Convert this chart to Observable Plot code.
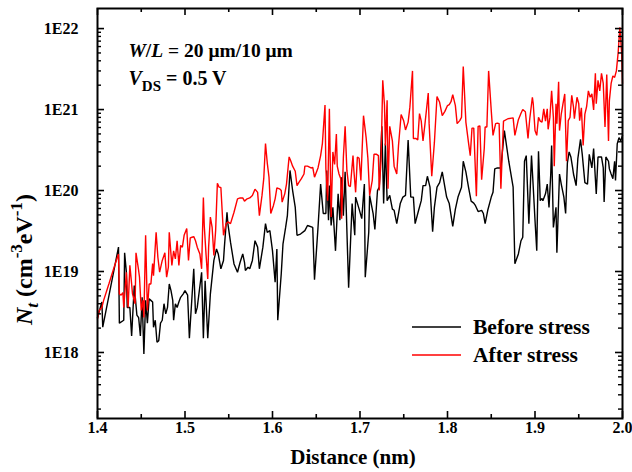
<!DOCTYPE html>
<html>
<head>
<meta charset="utf-8">
<script src="https://cdn.jsdelivr.net/npm/d3@7"></script>
<script src="https://cdn.jsdelivr.net/npm/@observablehq/plot@0.6"></script>
<style>
  html, body { margin: 0; padding: 0; background: #ffffff; }
  #chart { width: 632px; height: 472px; }
</style>
</head>
<body>
<div id="chart"></div>
<script>
// ---------------- data ----------------
const seriesNames = ["Before stress", "After stress"];
const seriesColors = ["#000000", "#ff0000"];

const beforeX = [
  1.400,1.405,1.406,1.424,1.425,1.430,1.431,1.433,1.434,1.437,
  1.439,1.442,1.445,1.447,1.449,1.451,1.453,1.455,1.457,1.459,
  1.461,1.463,1.464,1.466,1.468,1.470,1.472,1.474,1.476,1.478,
  1.480,1.482,1.484,1.486,1.487,1.489,1.491,1.493,1.495,1.498,
  1.500,1.503,1.505,1.510,1.512,1.514,1.519,1.521,1.523,1.526,
  1.529,1.533,1.536,1.538,1.541,1.544,1.545,1.548,1.549,1.552,
  1.556,1.560,1.563,1.566,1.568,1.569,1.572,1.574,1.577,1.580,
  1.583,1.585,1.589,1.592,1.594,1.597,1.600,1.603,1.605,1.606,
  1.610,1.612,1.615,1.617,1.620,1.623,1.626,1.628,1.632,1.637,
  1.640,1.646,1.648,1.652,1.655,1.658,1.661,1.662,1.664,1.665,
  1.667,1.669,1.672,1.675,1.677,1.679,1.681,1.683,1.687,1.691,
  1.694,1.695,1.699,1.702,1.705,1.706,1.710,1.711,1.715,1.717,
  1.720,1.722,1.725,1.727,1.729,1.731,1.734,1.737,1.739,1.742,
  1.746,1.749,1.752,1.755,1.758,1.761,1.763,1.767,1.770,1.772,
  1.775,1.777,1.780,1.783,1.785,1.788,1.791,1.794,1.797,1.799,
  1.802,1.806,1.809,1.812,1.816,1.818,1.821,1.824,1.827,1.830,
  1.832,1.835,1.839,1.841,1.843,1.846,1.850,1.852,1.854,1.857,
  1.861,1.865,1.870,1.875,1.877,1.881,1.884,1.886,1.888,1.890,
  1.893,1.896,1.898,1.900,1.902,1.904,1.906,1.908,1.909,1.912,
  1.914,1.916,1.918,1.919,1.921,1.924,1.925,1.928,1.930,1.933,
  1.935,1.937,1.939,1.941,1.943,1.944,1.947,1.949,1.952,1.954,
  1.957,1.960,1.962,1.965,1.967,1.970,1.972,1.976,1.978,1.979,
  1.981,1.984,1.985,1.987,1.989,1.991,1.992,1.994,1.996,1.998,
  2.000
];
const beforeY = [
  2.7e18,4.2e18,2.05e18,2.0e19,2.3e18,2.5e18,1.7e19,9.8e18,3.6e18,3.6e18,
  1.6e18,6.7e18,2.9e18,2.7e18,1.6e18,4.8e18,9.6e17,4.4e18,2.3e18,4.6e18,
  4.4e18,4.2e18,2.05e18,2.5e18,1.34e18,1.4e18,2.3e18,2.5e18,4.0e18,3.0e18,
  3.6e18,7.0e18,5.8e18,4.4e18,2.5e18,4.0e18,3.6e18,4.2e18,4.8e18,5.3e18,
  5.8e18,5.1e18,1.5e18,1.08e19,3.0e18,3.6e18,9.8e18,1.5e18,7.7e18,1.5e18,
  5.3e18,1.37e19,1.9e19,1.65e19,1.08e19,1.37e19,2.0e19,5.4e19,3.9e19,2.3e19,
  1.24e19,9.8e18,1.3e19,1.65e19,1.3e19,1.03e19,1.13e19,1.08e19,1.37e19,2.4e19,
  2.0e19,1.08e19,2.0e19,3.9e19,3.05e19,3.2e19,1.8e19,7.4e18,1.9e19,2.5e18,
  9.4e18,2.2e19,3.5e19,4.9e19,1.77e20,1.0e20,6.2e19,2.8e19,2.9e19,3.2e19,
  3.7e19,3.5e19,7.9e18,3.5e19,1.2e20,5.2e19,5.2e19,1.77e20,4.3e19,1.15e20,
  3.7e19,6.2e19,1.8e19,9.1e19,4.3e19,1.46e20,4.9e19,1.7e20,6.3e18,6.9e19,
  2.8e19,8.3e19,5.9e19,4.5e19,1.2e20,8.5e18,3.05e19,8.7e19,5.2e19,3.3e19,
  1.0e20,1.1e20,6.2e20,6.9e19,3.8e20,7.5e19,8.7e19,5.9e19,5.7e19,3.9e19,
  6.9e19,8.3e19,8.7e19,4.2e20,8.3e19,8.3e19,3.9e19,5.7e19,7.5e19,1.15e20,
  1.15e20,1.5e20,1.1e20,3.1e19,6.2e19,1.1e20,1.25e20,1.7e20,1.1e20,8.3e19,
  6.9e19,3.6e19,5.9e19,8.3e19,1.1e20,2.3e20,1.7e20,1.1e20,7.4e19,7.0e19,
  6.5e19,5.5e19,5.7e19,5.2e19,3.9e19,5.7e19,8.3e19,9.5e19,1.85e20,1.9e20,
  1.9e20,5.5e20,2.3e20,1.1e20,1.25e19,1.65e19,2.4e19,2.65e19,2.3e20,2.7e20,
  3.9e19,2.7e20,1.1e20,4.3e19,1.8e19,3.05e20,7.5e19,8.0e19,7.5e19,9.1e19,
  1.2e20,6.2e19,1.6e20,3.6e20,3.5e19,6.2e19,1.7e19,1.6e20,1.2e20,8.3e19,
  5.2e19,2.2e20,3.0e20,2.6e20,1.9e20,1.6e20,1.15e20,2.5e20,4.3e20,2.8e20,
  1.25e20,1.2e20,2.8e20,1.9e20,3.3e20,9.1e19,2.6e20,2.6e20,1.9e20,7.2e19,
  2.6e20,2.3e20,1.85e20,1.6e20,1.4e20,2.3e20,1.33e20,3.8e20,4.5e20,4.1e20,
  4.8e20
];

const afterX = [
  1.400,1.402,1.405,1.407,1.413,1.419,1.424,1.425,1.427,1.429,
  1.430,1.433,1.435,1.437,1.439,1.440,1.443,1.444,1.447,1.448,
  1.450,1.452,1.453,1.455,1.457,1.459,1.461,1.463,1.464,1.467,
  1.469,1.471,1.474,1.477,1.479,1.481,1.482,1.485,1.487,1.489,
  1.491,1.493,1.495,1.497,1.499,1.502,1.504,1.506,1.508,1.510,
  1.512,1.514,1.517,1.519,1.521,1.522,1.524,1.526,1.527,1.529,
  1.531,1.533,1.535,1.537,1.539,1.541,1.544,1.547,1.549,1.552,
  1.556,1.560,1.563,1.566,1.568,1.571,1.574,1.577,1.580,1.583,
  1.585,1.588,1.590,1.592,1.594,1.596,1.598,1.601,1.603,1.605,
  1.608,1.610,1.611,1.614,1.616,1.619,1.621,1.623,1.626,1.628,
  1.630,1.633,1.636,1.637,1.640,1.644,1.646,1.648,1.652,1.655,
  1.657,1.660,1.661,1.663,1.665,1.667,1.669,1.671,1.673,1.674,
  1.676,1.678,1.679,1.681,1.683,1.685,1.687,1.689,1.692,1.693,
  1.695,1.697,1.699,1.701,1.704,1.707,1.709,1.711,1.714,1.716,
  1.719,1.721,1.722,1.724,1.726,1.728,1.729,1.731,1.732,1.734,
  1.737,1.739,1.742,1.744,1.747,1.750,1.752,1.755,1.757,1.760,
  1.761,1.764,1.766,1.768,1.770,1.772,1.774,1.778,1.779,1.782,
  1.785,1.788,1.791,1.794,1.797,1.800,1.802,1.804,1.806,1.809,
  1.811,1.814,1.816,1.818,1.821,1.824,1.826,1.828,1.830,1.833,
  1.835,1.837,1.839,1.842,1.843,1.845,1.847,1.850,1.852,1.855,
  1.857,1.859,1.861,1.864,1.869,1.875,1.877,1.881,1.884,1.886,
  1.889,1.892,1.894,1.897,1.898,1.900,1.902,1.904,1.906,1.908,
  1.910,1.912,1.914,1.915,1.917,1.919,1.921,1.922,1.924,1.925,
  1.927,1.928,1.930,1.932,1.934,1.936,1.938,1.940,1.942,1.944,
  1.945,1.948,1.950,1.951,1.953,1.955,1.957,1.959,1.961,1.963,
  1.965,1.967,1.969,1.970,1.972,1.974,1.976,1.978,1.980,1.982,
  1.984,1.985,1.987,1.989,1.991,1.993,1.995,1.997,1.999,2.000
];
const afterY = [
  2.6e18,3.3e18,3.6e18,4.4e18,7.0e18,1.13e19,1.65e19,5.3e18,5.1e18,5.5e18,
  3.6e18,9.8e18,3.6e18,1.19e19,7.0e18,5.3e18,4.0e18,1.7e19,1.03e19,8.5e18,
  3.3e18,4.4e18,2.7e18,2.8e19,3.3e18,7.0e18,7.0e18,1.25e19,8.9e18,3.05e19,
  1.5e19,9.8e18,1.37e19,1.7e19,8.5e18,1.13e19,3.05e19,1.19e19,1.8e19,1.43e19,
  2.4e19,1.19e19,2.1e19,2.0e19,2.8e19,3.4e19,1.37e19,2.6e19,2.65e19,2.7e19,
  2.4e19,2.0e19,1.65e19,1.08e19,8.2e19,3.7e19,1.65e19,8.1e18,2.0e19,4.7e19,
  3.5e19,1.58e19,3.2e19,1.23e20,1.1e20,1.09e20,2.8e19,3.9e19,4.1e19,3.9e19,
  5.4e19,7.9e19,8.1e19,8.1e19,7.4e19,7.9e19,8.1e19,8.7e19,1.04e20,9.5e19,
  4.9e19,8.7e19,1.4e20,3.8e20,2.2e20,1.46e20,5.2e19,6.5e19,7.9e19,1.08e20,
  1.05e20,1.0e20,7.2e19,9.1e19,1.2e20,2.6e20,2.3e20,2.0e20,1.73e20,1.15e20,
  1.25e20,1.4e20,1.6e20,2.0e20,2.0e20,1.9e20,1.93e20,1.46e20,1.9e20,2.7e20,
  3.8e20,1.14e21,1.85e20,7.5e19,1.02e21,4.7e19,3.0e20,2.1e20,5.0e20,2.0e20,
  1.6e20,1.4e20,4.5e19,2.6e20,6.2e20,1.77e20,1.15e20,1.12e20,2.7e20,1.77e20,
  9.5e19,2.6e20,2.5e20,1.33e20,8.4e20,4.5e20,2.5e20,8.7e19,1.33e20,2.8e20,
  2.8e20,2.7e20,1.0e20,2.3e20,2.3e21,1.12e21,3.6e20,1.3e21,1.05e20,6.2e20,
  4.1e20,2.0e20,1.6e20,3.6e20,8.7e20,7.2e20,5.6e20,7.0e20,1.07e21,3.0e21,
  4.4e20,4.4e20,4.2e20,8.9e20,7.2e20,4.1e20,6.3e20,1.6e21,6.7e20,1.5e20,
  3.9e20,1.45e21,1.23e21,8.4e20,9.5e20,1.12e21,1.15e21,1.25e21,1.53e21,1.12e21,
  6.7e20,7.3e20,8.0e20,3.4e21,7.0e20,3.9e20,2.7e20,5.9e20,5.9e20,8.5e19,
  6.2e20,6.3e20,1.36e20,3.3e20,6.1e20,6.1e20,3.0e21,9.7e20,4.8e20,6.7e20,
  6.8e20,6.7e20,1.05e20,7.2e20,7.7e20,7.9e20,4.8e20,7.5e20,9.0e20,1.0e21,
  9.4e20,4.4e20,7.7e20,1.42e21,1.18e21,5.5e20,4.8e20,8.0e20,7.2e20,7.0e20,
  1.02e21,7.2e20,1.02e21,5.7e20,8.0e20,1.7e21,8.0e20,2.0e20,1.18e21,6.7e20,
  2.2e21,5.5e20,8.8e20,1.18e21,1.56e21,2.3e20,7.3e20,8.0e20,1.5e21,1.07e21,
  7.7e20,1.42e21,1.18e21,7.3e20,1.05e21,3.6e20,8.8e20,1.09e21,1.7e21,1.42e21,
  1.56e21,9.9e20,2.8e21,1.18e21,2.3e21,1.7e21,2.8e21,2.1e21,6.1e20,2.7e21,
  4.1e20,1.29e21,2.1e21,2.6e21,2.5e21,3.0e21,5.0e21,1.04e22,5.0e21,2.1e21
];

// axes
const xDomain = [1.4, 2.0];
const yDomain = [1.53e17, 1.77e22];
const xTicks = [1.4, 1.5, 1.6, 1.7, 1.8, 1.9, 2.0];
const xTickLabels = ["1.4", "1.5", "1.6", "1.7", "1.8", "1.9", "2.0"];
const xMinorTicks = [1.45, 1.55, 1.65, 1.75, 1.85, 1.95];
const yTicks = [1e18, 1e19, 1e20, 1e21, 1e22];
const yTickLabels = ["1E18", "1E19", "1E20", "1E21", "1E22"];
const yMinorMultipliers = [2, 3, 4, 5, 6, 7, 8, 9];
const yDecades = [1e17, 1e18, 1e19, 1e20, 1e21, 1e22];
const xTitle = "Distance (nm)";

// ---------------- build tables ----------------
const before = beforeX.map((x, i) => ({x, y: beforeY[i], series: seriesNames[0]}));
const after = afterX.map((x, i) => ({x, y: afterY[i], series: seriesNames[1]}));
const yMinorTicks = [];
for (const d of yDecades) for (const k of yMinorMultipliers) {
  const v = k * d;
  if (v > yDomain[0] && v < yDomain[1]) yMinorTicks.push(v);
}

// ---------------- layout ----------------
const W = 632, H = 472;
const M = {left: 97, right: 10, top: 8, bottom: 54};
const innerW = W - M.left - M.right;
const innerH = H - M.top - M.bottom;
const majorLen = 7, minorLen = 4;
const FONT = "'Liberation Serif', 'Times New Roman', Times, serif";

const svg = Plot.plot({
  width: W, height: H,
  marginLeft: M.left, marginRight: M.right, marginTop: M.top, marginBottom: M.bottom,
  x: {domain: xDomain},
  y: {type: "log", domain: yDomain},
  style: {fontFamily: FONT, fontSize: "16px", fontWeight: "bold", color: "black", background: "white", overflow: "visible"},
  marks: [
    Plot.line(before, {x: "x", y: "y", stroke: seriesColors[0], strokeWidth: 1.4, strokeLinejoin: "miter"}),
    Plot.line(after, {x: "x", y: "y", stroke: seriesColors[1], strokeWidth: 1.4, strokeLinejoin: "miter"}),
    // inward ticks, mirrored on all four sides
    Plot.tickX(xTicks, {x: d => d, insetTop: innerH - majorLen, stroke: "black", strokeWidth: 1.6}),
    Plot.tickX(xTicks, {x: d => d, insetBottom: innerH - majorLen, stroke: "black", strokeWidth: 1.6}),
    Plot.tickX(xMinorTicks, {x: d => d, insetTop: innerH - minorLen, stroke: "black", strokeWidth: 1.6}),
    Plot.tickX(xMinorTicks, {x: d => d, insetBottom: innerH - minorLen, stroke: "black", strokeWidth: 1.6}),
    Plot.tickY(yTicks, {y: d => d, insetRight: innerW - majorLen, stroke: "black", strokeWidth: 1.6}),
    Plot.tickY(yTicks, {y: d => d, insetLeft: innerW - majorLen, stroke: "black", strokeWidth: 1.6}),
    Plot.tickY(yMinorTicks, {y: d => d, insetRight: innerW - minorLen, stroke: "black", strokeWidth: 1.4}),
    Plot.tickY(yMinorTicks, {y: d => d, insetLeft: innerW - minorLen, stroke: "black", strokeWidth: 1.4}),
    Plot.frame({stroke: "black", strokeWidth: 2}),
    Plot.axisX(xTicks, {tickSize: 0, tickPadding: 3, label: null, fontSize: 16,
      tickFormat: d => xTickLabels[xTicks.indexOf(d)]}),
    Plot.axisY(yTicks, {tickSize: 0, tickPadding: 19, label: null, fontSize: 16,
      tickFormat: d => yTickLabels[yTicks.indexOf(d)]}),
    Plot.text([xTitle], {text: d => d, frameAnchor: "bottom", dx: -7, dy: 39, fontSize: 21,
      textAnchor: "middle", lineAnchor: "middle"}),
    Plot.text(["@YTITLE@"], {text: d => d, frameAnchor: "left", dx: -73, dy: 46, rotate: -90, fontSize: 24,
      textAnchor: "middle", lineAnchor: "middle"}),
    Plot.text(["@WL@"], {text: d => d, frameAnchor: "top-left", dx: 31, dy: 42, fontSize: 19.5,
      textAnchor: "start", lineAnchor: "middle"}),
    Plot.text(["@VDS@"], {text: d => d, frameAnchor: "top-left", dx: 31, dy: 70, fontSize: 20,
      textAnchor: "start", lineAnchor: "middle"})
  ]
});

// ---------------- rich text (italics / sub- and superscripts) ----------------
function rich(placeholder, parts) {
  const t = d3.select(svg).selectAll("text").filter(function() { return this.textContent === placeholder; });
  t.text(null);
  for (const p of parts) {
    const s = t.append("tspan").text(p.t);
    if (p.italic) s.attr("font-style", "italic");
    if (p.size) s.attr("font-size", p.size);
    if (p.dy) s.attr("dy", p.dy);
  }
}
rich("@YTITLE@", [
  {t: "N", italic: true},
  {t: "t", italic: true, size: 17, dy: 6},
  {t: " (cm", dy: -6},
  {t: "-3", size: 17, dy: -10},
  {t: "eV", dy: 10},
  {t: "-1", size: 17, dy: -10},
  {t: ")", dy: 10}
]);
rich("@WL@", [
  {t: "W", italic: true},
  {t: "/"},
  {t: "L", italic: true},
  {t: " = 20 \u03bcm/10 \u03bcm"}
]);
rich("@VDS@", [
  {t: "V", italic: true},
  {t: "DS", size: 15, dy: 6},
  {t: " = 0.5 V", dy: -6}
]);

// ---------------- legend ----------------
const leg = d3.select(svg).append("g")
  .attr("font-family", FONT).attr("font-weight", "bold").attr("font-size", 21.5).attr("text-anchor", "start");
const legendRows = [327, 355];
seriesNames.forEach((name, i) => {
  leg.append("line").attr("x1", 412).attr("x2", 461).attr("y1", legendRows[i]).attr("y2", legendRows[i])
    .attr("stroke", seriesColors[i]).attr("stroke-width", 1.5);
  leg.append("text").attr("x", 473).attr("y", legendRows[i]).attr("dy", "0.33em")
    .attr("fill", "black").attr("text-anchor", "start").text(name);
});

document.getElementById("chart").append(svg);
</script>
</body>
</html>
